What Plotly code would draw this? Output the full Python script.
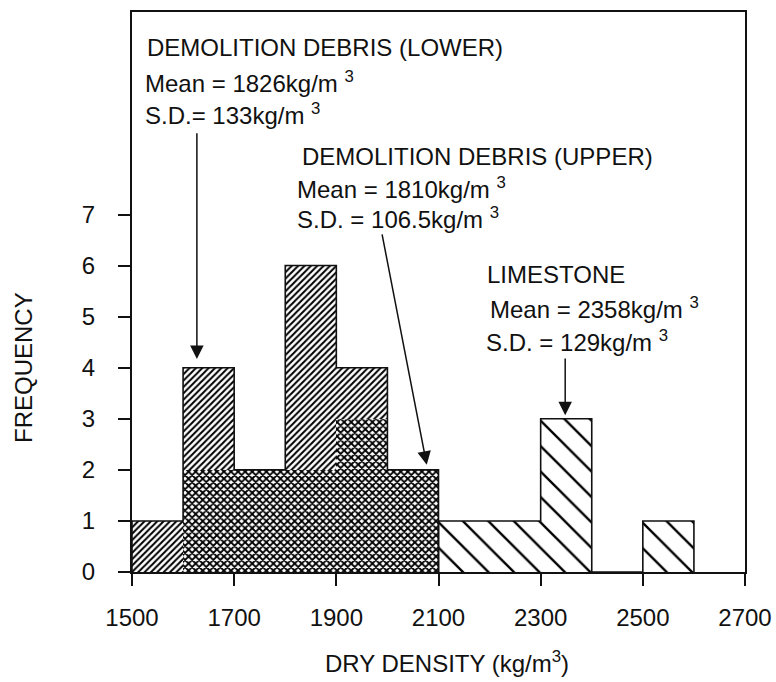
import plotly.graph_objects as go

# ---- data ----
bin_centers_debris = [1550, 1650, 1750, 1850, 1950, 2050]
lower_counts = [1, 4, 2, 6, 4, 2]
upper_counts = [0, 2, 2, 2, 3, 2]
bin_centers_lime = [2150, 2250, 2350, 2450, 2550]
lime_counts = [1, 1, 3, 0, 1]
bin_width = 100
x_ticks = [1500, 1700, 1900, 2100, 2300, 2500, 2700]
y_ticks = [0, 1, 2, 3, 4, 5, 6, 7]

FONT = "Liberation Sans, Arial, Helvetica, sans-serif"
INK = "#111111"


def step_outline(centers, counts, w):
    lefts = [c - w / 2 for c in centers]
    right = centers[-1] + w / 2
    xs = [lefts[0]] + lefts + [right, right]
    ys = [0] + list(counts) + [counts[-1], 0]
    return xs, ys


fig = go.Figure()
fig.add_bar(x=bin_centers_debris, y=lower_counts, width=bin_width,
            marker=dict(color="white", line=dict(width=0),
                        pattern=dict(shape="/", size=4.5, solidity=0.45, fgopacity=1,
                                     fgcolor="black", bgcolor="white", fillmode="replace")),
            name="Lower")
fig.add_bar(x=bin_centers_debris, y=upper_counts, width=bin_width,
            marker=dict(color="white", line=dict(width=0),
                        pattern=dict(shape="x", size=5, solidity=0.6, fgopacity=1,
                                     fgcolor="black", bgcolor="white", fillmode="replace")),
            name="Upper")
fig.add_bar(x=bin_centers_lime, y=lime_counts, width=bin_width,
            marker=dict(color="white", line=dict(width=0),
                        pattern=dict(shape="\\", size=18, solidity=0.13, fgopacity=1,
                                     fgcolor="black", bgcolor="white", fillmode="replace")),
            name="Limestone")

for centers, counts in [(bin_centers_debris, lower_counts), (bin_centers_lime, lime_counts)]:
    xs, ys = step_outline(centers, counts, bin_width)
    fig.add_scatter(x=xs, y=ys, mode="lines", line=dict(color=INK, width=1.6, shape="hv"),
                    hoverinfo="skip")

fig.update_layout(
    width=776, height=682, autosize=False,
    margin=dict(l=132, r=31, t=12, b=110, autoexpand=False),
    paper_bgcolor="white", plot_bgcolor="white",
    barmode="overlay", bargap=0, showlegend=False,
    font=dict(family=FONT, size=24, color=INK),
)
fig.update_xaxes(range=[1500, 2700], tickvals=x_ticks, ticks="outside", ticklen=12,
                 tickwidth=1.5, tickcolor=INK, showline=True, linecolor=INK, linewidth=2,
                 mirror=True, showgrid=False, zeroline=False, ticklabelstandoff=11,
                 ticklabeloverflow="allow", automargin=False,
                 tickfont=dict(size=24, color=INK))
fig.update_yaxes(range=[0, 10.965], tickvals=y_ticks, ticks="outside", ticklen=12,
                 tickwidth=1.5, tickcolor=INK, showline=True, linecolor=INK, linewidth=2,
                 mirror=True, showgrid=False, zeroline=False, ticklabelstandoff=18,
                 automargin=False, tickfont=dict(size=24, color=INK))

PLOT_L, PLOT_R, PLOT_T, PLOT_B = 132, 745, 12, 572


def px(xp):
    return (xp - PLOT_L) / (PLOT_R - PLOT_L)


def py(yp):
    return (PLOT_B - yp) / (PLOT_B - PLOT_T)


texts = [
    ("DEMOLITION DEBRIS (LOWER)", 145, 47.5),
    ("Mean = 1826kg/m <sup>3</sup>", 143, 82),
    ("S.D.= 133kg/m <sup>3</sup>", 143, 114),
    ("DEMOLITION DEBRIS (UPPER)", 300, 157),
    ("Mean = 1810kg/m <sup>3</sup>", 295, 188),
    ("S.D. = 106.5kg/m <sup>3</sup>", 295, 217.5),
    ("LIMESTONE", 485, 274),
    ("Mean = 2358kg/m <sup>3</sup>", 488, 307.5),
    ("S.D. = 129kg/m <sup>3</sup>", 484, 341),
]
for t, xp, yp in texts:
    fig.add_annotation(text=t, xref="paper", yref="paper", x=px(xp), y=py(yp),
                       xanchor="left", yanchor="middle", showarrow=False,
                       font=dict(size=24, color=INK, family=FONT))

# arrows (tail -> tip) in data coordinates
arrows = [
    ((1627, 8.62), (1627, 4.17)),
    ((1989, 6.64), (2077, 2.10)),
    ((2348, 4.21), (2348, 3.07)),
]
for (tx, ty), (hx, hy) in arrows:
    fig.add_annotation(x=hx, y=hy, ax=tx, ay=ty, xref="x", yref="y", axref="x", ayref="y",
                       text="", showarrow=True, arrowhead=2, arrowsize=1.8,
                       arrowwidth=1.5, arrowcolor=INK)

fig.add_annotation(text="FREQUENCY", xref="paper", yref="paper", x=px(23), y=py(368),
                   xanchor="center", yanchor="middle", textangle=-90, showarrow=False,
                   font=dict(size=24, color=INK, family=FONT))
fig.add_annotation(text="DRY DENSITY (kg/m<sup>3</sup>)", xref="paper", yref="paper",
                   x=px(447), y=py(662), xanchor="center", yanchor="middle", showarrow=False,
                   font=dict(size=24, color=INK, family=FONT))

fig.write_html("out.html", config={"displayModeBar": False, "responsive": False},
               post_script="document.body.style.margin='0';document.body.style.padding='0';"
                           "document.body.style.overflow='hidden';"
                           "document.documentElement.style.overflow='hidden';")
